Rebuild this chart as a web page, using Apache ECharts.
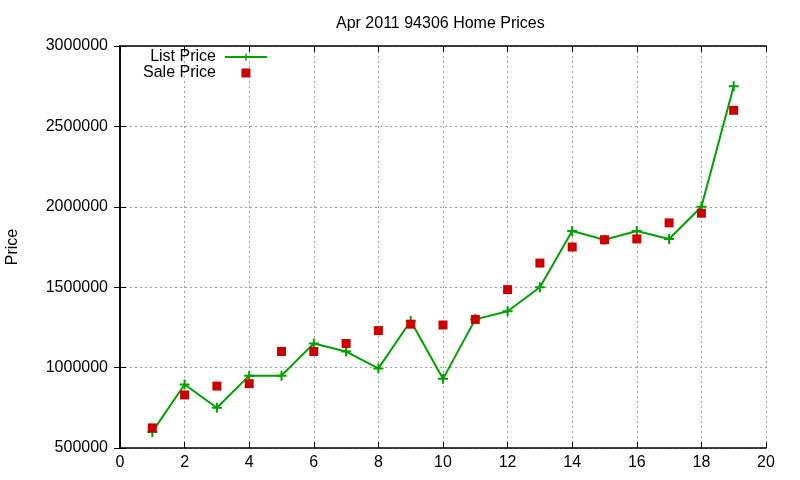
<!DOCTYPE html>
<html>
<head>
<meta charset="utf-8">
<script src="https://cdn.jsdelivr.net/npm/echarts@6/dist/echarts.min.js"></script>
<style>
  html, body { margin: 0; padding: 0; background: #fff; }
  #chart { width: 800px; height: 480px; }
</style>
</head>
<body>
<div id="chart"></div>
<script>
// values
const months = [1, 2, 3, 4, 5, 6, 7, 8, 9, 10, 11, 12, 13, 14, 15, 16, 17, 18, 19];
const listPrice = [600000, 895000, 750000, 950000, 950000, 1150000, 1100000, 995000, 1290000, 930000,
  1300000, 1350000, 1500000, 1850000, 1795000, 1850000, 1800000, 2000000, 2750000];
const salePrice = [625000, 830000, 885000, 900000, 1100000, 1100000, 1150000, 1230000, 1270000, 1265000,
  1300000, 1485000, 1650000, 1750000, 1795000, 1800000, 1900000, 1960000, 2600000];

const font = "'Liberation Sans', Arial, sans-serif";
const plus = "path://M4,0H6V4H10V6H6V10H4V6H0V4H4Z";
const square = "path://M0,0H10V10H0Z";
const grid = { lineStyle: { color: "#a0a0a0", type: [2, 3], width: 1 } };
const border = { show: true, lineStyle: { color: "#000", width: 1.5 } };
const ticks = { inside: true, length: 6, lineStyle: { color: "#000" } };

const chart = echarts.init(document.getElementById("chart"));
chart.setOption({
  animation: false,
  title: {
    text: "Apr 2011 94306 Home Prices",
    left: 331,
    top: 11,
    textStyle: { fontFamily: font, fontSize: 16, fontWeight: "normal", color: "#000" },
  },
  legend: {
    orient: "vertical",
    left: 138,
    top: 44,
    align: "right",
    itemWidth: 42,
    itemHeight: 9,
    itemGap: 0,
    textStyle: { fontFamily: font, fontSize: 16, color: "#000", lineHeight: 16, padding: [0, 4, 0, 0] },
    data: ["List Price", "Sale Price"],
  },
  grid: { left: 120, right: 34, top: 46, bottom: 32, containLabel: false, outerBoundsMode: "none" },
  xAxis: [
    {
      type: "value",
      min: 0,
      max: 20,
      interval: 2,
      axisLine: border,
      axisTick: ticks,
      axisLabel: { fontFamily: font, fontSize: 16, color: "#000", margin: 7 },
      splitLine: grid,
    },
    {
      type: "value",
      position: "top",
      min: 0,
      max: 20,
      interval: 2,
      axisLine: border,
      axisTick: ticks,
      axisLabel: { show: false },
      splitLine: { show: false },
    },
  ],
  yAxis: [
    {
      type: "value",
      min: 500000,
      max: 3000000,
      interval: 500000,
      name: "Price",
      nameLocation: "middle",
      nameGap: 99,
      nameTextStyle: { fontFamily: font, fontSize: 16, color: "#000" },
      axisLine: border,
      axisTick: ticks,
      axisLabel: { fontFamily: font, fontSize: 16, color: "#000", margin: 12, formatter: (v) => String(v) },
      splitLine: grid,
    },
    {
      type: "value",
      position: "right",
      min: 500000,
      max: 3000000,
      interval: 500000,
      axisLine: border,
      axisTick: ticks,
      axisLabel: { show: false },
      splitLine: { show: false },
    },
  ],
  series: [
    {
      name: "List Price",
      type: "line",
      data: months.map((m, i) => [m, listPrice[i]]),
      symbol: plus,
      symbolSize: 10,
      showAllSymbol: true,
      itemStyle: { color: "#00a000" },
      lineStyle: { color: "#00a000", width: 2 },
      z: 2,
    },
    {
      name: "Sale Price",
      type: "scatter",
      data: months.map((m, i) => [m, salePrice[i]]),
      symbol: square,
      symbolKeepAspect: true,
      symbolSize: 9,
      itemStyle: { color: "#cc0000", opacity: 1 },
      z: 3,
    },
  ],
});
</script>
</body>
</html>
